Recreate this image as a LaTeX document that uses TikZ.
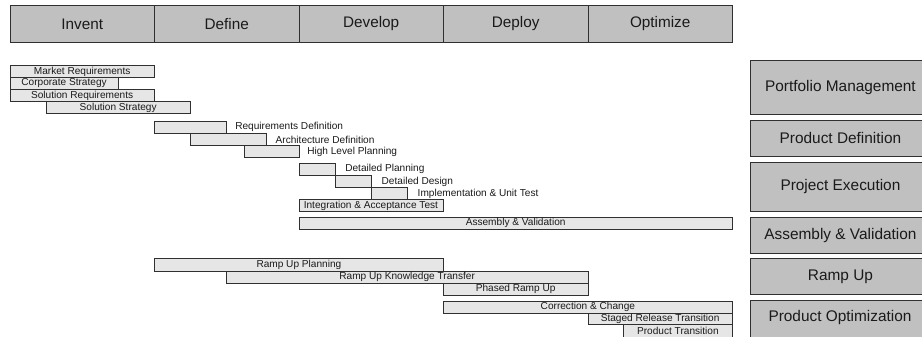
\documentclass[tikz,border=0pt]{standalone}
\usepackage{fontspec}
\setmainfont{Liberation Sans}
\definecolor{hdr}{HTML}{C0C0C0}
\definecolor{barf}{HTML}{E6E6E6}
\definecolor{edge}{HTML}{303030}
\definecolor{txt}{HTML}{1A1A1A}
\begin{document}
\begin{tikzpicture}[x=1pt,y=-1pt,
  hdrbox/.style={draw=edge, fill=hdr, line width=0.9pt, inner sep=0pt, anchor=north west,
    minimum width=144.5pt, minimum height=37pt, font=\fontsize{15.3}{18}\selectfont, text=txt},
  ganttbar/.style={draw=edge, fill=barf, line width=0.8pt, inner sep=0pt, anchor=north west,
    font=\fontsize{10.1}{12}\selectfont, text=txt},
  sidebox/.style={draw=edge, fill=hdr, line width=0.9pt, inner sep=0pt, anchor=north west,
    minimum width=181pt, font=\fontsize{15.4}{18}\selectfont, text=txt},
  outlbl/.style={anchor=west, inner sep=0pt, font=\fontsize{10.1}{12}\selectfont, text=txt},
  sidetxt/.style={inner sep=0pt, font=\fontsize{15.4}{18}\selectfont, text=txt}]
\useasboundingbox (0,0) rectangle (922,337);
\fill[white] (0,0) rectangle (922,337);
\clip (0,0) rectangle (922,337);

% phase header
\node[hdrbox] (invent) at (9.5,5) {Invent};
\node[hdrbox] (define) at (154,5) {Define};
\node[hdrbox] (develop) at (298.5,5) {Develop};
\node[hdrbox] (deploy) at (443,5) {Deploy};
\node[hdrbox] (optimize) at (587.5,5) {Optimize};

% portfolio management bars
\node[ganttbar, minimum width=144.5pt, minimum height=11.7pt] (mr) at (9.5,65.5) {Market Requirements};
\node[ganttbar, minimum width=108.3pt, minimum height=11.8pt] (cs) at (9.5,77.2) {Corporate Strategy};
\node[ganttbar, minimum width=144.5pt, minimum height=12pt] (sr) at (9.5,89) {Solution Requirements};
\node[ganttbar, minimum width=144.5pt, minimum height=12pt] (ss) at (45.5,101) {Solution Strategy};

% product definition bars
\node[ganttbar, minimum width=72pt, minimum height=12.3pt] (rd) at (154,120.7) {};
\node[outlbl] (rdl) at ([xshift=8.3pt]rd.east) {Requirements Definition};
\node[ganttbar, minimum width=75.7pt, minimum height=12pt] (ad) at (190,133) {};
\node[outlbl] (adl) at ([xshift=9pt]ad.east) {Architecture Definition};
\node[ganttbar, minimum width=54.5pt, minimum height=12.3pt] (hlp) at (244,145) {};
\node[outlbl] (hlpl) at ([xshift=7.8pt]hlp.east) {High Level Planning};

% project execution bars
\node[ganttbar, minimum width=36pt, minimum height=12.3pt] (dp) at (298.5,162.7) {};
\node[outlbl] (dpl) at ([xshift=9.8pt]dp.east) {Detailed Planning};
\node[ganttbar, minimum width=36pt, minimum height=12.3pt] (dd) at (334.5,175) {};
\node[outlbl] (ddl) at ([xshift=10.2pt]dd.east) {Detailed Design};
\node[ganttbar, minimum width=36pt, minimum height=12pt] (iu) at (370.5,187.3) {};
\node[outlbl] (iul) at ([xshift=10.2pt]iu.east) {Implementation \& Unit Test};
\node[ganttbar, minimum width=144pt, minimum height=12pt] (ia) at (298.5,199.3) {Integration \& Acceptance Test};

% assembly & validation
\node[ganttbar, minimum width=433.5pt, minimum height=12pt] (av) at (298.5,216.7) {Assembly \& Validation};

% ramp up
\node[ganttbar, minimum width=289pt, minimum height=12.4pt] (rup) at (154,258.3) {Ramp Up Planning};
\node[ganttbar, minimum width=361.5pt, minimum height=12pt] (rukt) at (226,270.7) {Ramp Up Knowledge Transfer};
\node[ganttbar, minimum width=144.5pt, minimum height=12.3pt] (pru) at (443,282.7) {Phased Ramp Up};

% product optimization
\node[ganttbar, minimum width=289pt, minimum height=11.7pt] (cc) at (443,301) {Correction \& Change};
\node[ganttbar, minimum width=144.5pt, minimum height=11.6pt] (srt) at (587.5,312.7) {Staged Release Transition};
\node[ganttbar, minimum width=109pt, minimum height=13pt] (ptr) at (623,324.3) {Product Transition};

% side category boxes
\node[sidebox, minimum height=54pt] (pm) at (749.5,60) {Portfolio Management};
\node[sidebox, minimum height=36pt] (pd) at (749.5,120) {Product Definition};
\node[sidebox, minimum height=48.4pt] (pe) at (749.5,162.3) {Project Execution};
\node[sidebox, minimum height=36pt] (avs) at (749.5,216.7) {Assembly \& Validation};
\node[sidebox, minimum height=36pt] (ru) at (749.5,258.3) {Ramp Up};
\node[sidebox, minimum height=50pt] (po) at (749.5,300) {};
\node[sidetxt] (potxt) at (840,318) {Product Optimization};
\end{tikzpicture}
\end{document}
